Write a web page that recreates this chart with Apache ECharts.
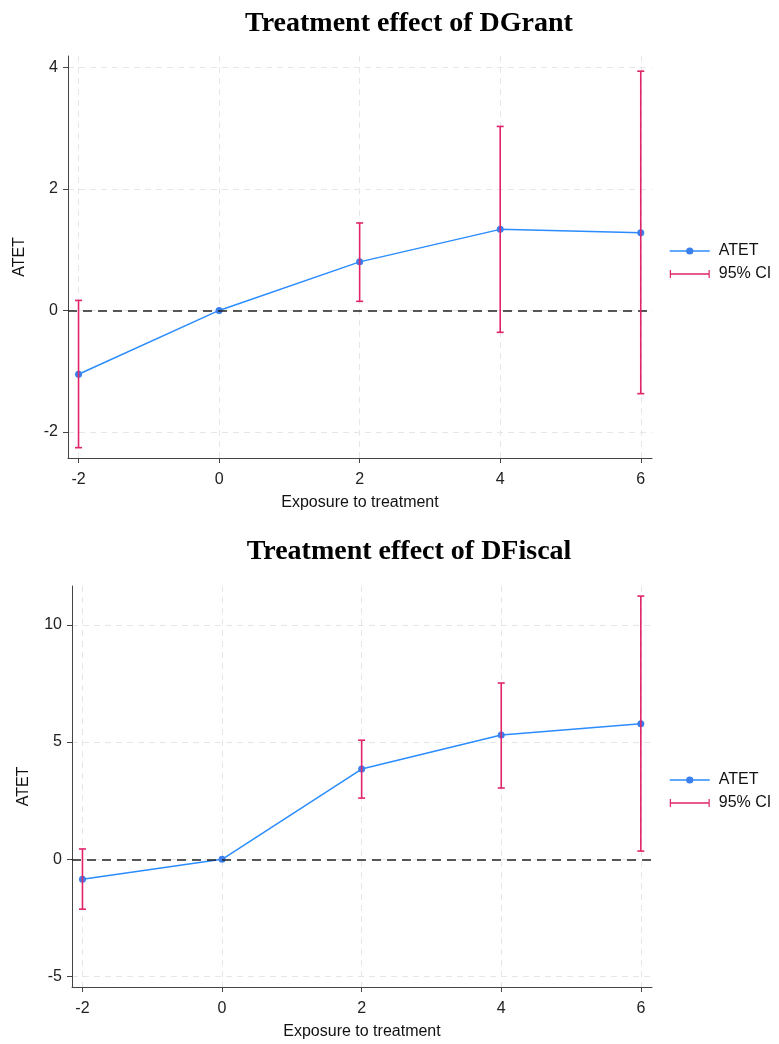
<!DOCTYPE html>
<html>
<head>
<meta charset="utf-8">
<script src="https://cdn.jsdelivr.net/npm/echarts@6/dist/echarts.min.js"></script>
<style>
  html, body { margin: 0; padding: 0; background: #fff; }
  #chart { width: 779px; height: 1044px; }
</style>
</head>
<body>
<div id="chart"></div>
<script>
var exposure = [-2, 0, 2, 4, 6];
var xTicks = [-2, 0, 2, 4, 6];

var grantAtet = [-1.05, 0, 0.80, 1.335, 1.28];
var grantLower = [-2.26, null, 0.15, -0.36, -1.37];
var grantUpper = [0.165, null, 1.44, 3.03, 3.94];
var grantTicks = [-2, 0, 2, 4];

var fiscalAtet = [-0.85, 0, 3.85, 5.30, 5.78];
var fiscalLower = [-2.13, null, 2.61, 3.04, 0.35];
var fiscalUpper = [0.44, null, 5.08, 7.52, 11.23];
var fiscalTicks = [-5, 0, 5, 10];

var lineColor = '#2a8cff';
var markerColor = '#3a7fec';
var ciColor = '#e0246a';
var axisColor = '#444';
var font = 'Liberation Sans, Arial, sans-serif';

function pairs(xs, ys) {
    return xs.map(function (x, i) { return [x, ys[i]]; });
}

function ciData(xs, lo, hi) {
    var out = [];
    xs.forEach(function (x, i) {
        if (lo[i] != null) out.push([x, lo[i], hi[i]]);
    });
    return out;
}

function renderCI(params, api) {
    var x = api.value(0);
    var top = api.coord([x, api.value(2)]);
    var bot = api.coord([x, api.value(1)]);
    var w = 3.5;
    var style = { stroke: ciColor, lineWidth: 1.6 };
    return {
        type: 'group',
        children: [
            { type: 'line', shape: { x1: top[0], y1: top[1], x2: bot[0], y2: bot[1] }, style: style },
            { type: 'line', shape: { x1: top[0] - w, y1: top[1], x2: top[0] + w, y2: top[1] }, style: style },
            { type: 'line', shape: { x1: bot[0] - w, y1: bot[1], x2: bot[0] + w, y2: bot[1] }, style: style }
        ]
    };
}

function xAxisFor(gridIndex) {
    return {
        type: 'value',
        gridIndex: gridIndex,
        min: -2.15,
        max: 6.16,
        name: 'Exposure to treatment',
        nameLocation: 'middle',
        nameGap: 37,
        nameTextStyle: { color: '#111', fontSize: 16, fontFamily: font },
        axisLine: { onZero: false, lineStyle: { color: axisColor, width: 1 } },
        axisTick: { show: true, length: 5, customValues: xTicks, lineStyle: { color: axisColor } },
        axisLabel: { customValues: xTicks, color: '#222', fontSize: 16, fontFamily: font, margin: 14 },
        splitLine: { show: true, lineStyle: { color: '#e6e6e6', type: [6, 5], width: 1 } }
    };
}

function yAxisFor(gridIndex, min, max, ticks) {
    return {
        type: 'value',
        gridIndex: gridIndex,
        min: min,
        max: max,
        name: 'ATET',
        nameLocation: 'middle',
        nameGap: 40,
        nameTextStyle: { color: '#111', fontSize: 16, fontFamily: font },
        axisLine: { show: true, onZero: false, lineStyle: { color: axisColor, width: 1 } },
        axisTick: { show: true, length: 5, customValues: ticks, lineStyle: { color: axisColor } },
        axisLabel: { customValues: ticks, color: '#222', fontSize: 16, fontFamily: font, margin: 10 },
        splitLine: { show: true, lineStyle: { color: '#e6e6e6', type: [6, 5], width: 1 } }
    };
}

function atetSeries(idx, values) {
    return {
        name: 'ATET',
        type: 'line',
        xAxisIndex: idx,
        yAxisIndex: idx,
        data: pairs(exposure, values),
        symbol: 'circle',
        symbolSize: 7,
        lineStyle: { color: lineColor, width: 1.5 },
        itemStyle: { color: markerColor },
        z: 3,
        markLine: {
            silent: true,
            symbol: 'none',
            label: { show: false },
            lineStyle: { color: '#222', type: [9, 6], width: 1.5 },
            data: [{ yAxis: 0 }]
        }
    };
}

function ciSeries(idx, lo, hi) {
    return {
        name: '95% CI',
        type: 'custom',
        xAxisIndex: idx,
        yAxisIndex: idx,
        data: ciData(exposure, lo, hi),
        renderItem: renderCI,
        itemStyle: { color: ciColor },
        encode: { x: 0, y: [1, 2] },
        z: 5
    };
}

var ciIcon = 'path://M0,0h1.2v8h-1.2z M0,3.3h40v1.4h-40z M38.8,0h1.2v8h-1.2z';

function legendFor(top) {
    return {
        orient: 'vertical',
        left: 664,
        top: top,
        itemWidth: 40,
        itemHeight: 9,
        itemGap: 7,
        textStyle: { color: '#111', fontSize: 16, fontFamily: font, padding: [0, 0, 0, 4] },
        data: [
            { name: 'ATET', itemStyle: { color: markerColor }, lineStyle: { color: lineColor, width: 1.5 } },
            { name: '95% CI', icon: ciIcon, itemStyle: { color: ciColor } }
        ],
        selectedMode: false
    };
}

var chart = echarts.init(document.getElementById('chart'));

var option = {
    backgroundColor: '#fff',
    animation: false,
    title: [
        {
            text: 'Treatment effect of DGrant',
            left: 404,
            top: 5,
            textAlign: 'center',
            textStyle: { fontFamily: 'Liberation Serif, Times New Roman, serif', fontWeight: 'bold', fontSize: 28, color: '#000' }
        },
        {
            text: 'Treatment effect of DFiscal',
            left: 404,
            top: 533,
            textAlign: 'center',
            textStyle: { fontFamily: 'Liberation Serif, Times New Roman, serif', fontWeight: 'bold', fontSize: 28, color: '#000' }
        }
    ],
    legend: [legendFor(238), legendFor(767)],
    grid: [
        { left: 68, top: 56, width: 584, height: 402 },
        { left: 72, top: 586, width: 580, height: 401 }
    ],
    xAxis: [xAxisFor(0), xAxisFor(1)],
    yAxis: [
        yAxisFor(0, -2.43, 4.19, grantTicks),
        yAxisFor(1, -5.45, 11.66, fiscalTicks)
    ],
    series: [
        atetSeries(0, grantAtet),
        ciSeries(0, grantLower, grantUpper),
        atetSeries(1, fiscalAtet),
        ciSeries(1, fiscalLower, fiscalUpper)
    ]
};

chart.setOption(option);

window.addEventListener('resize', function () {
    chart.resize();
});
</script>
</body>
</html>
